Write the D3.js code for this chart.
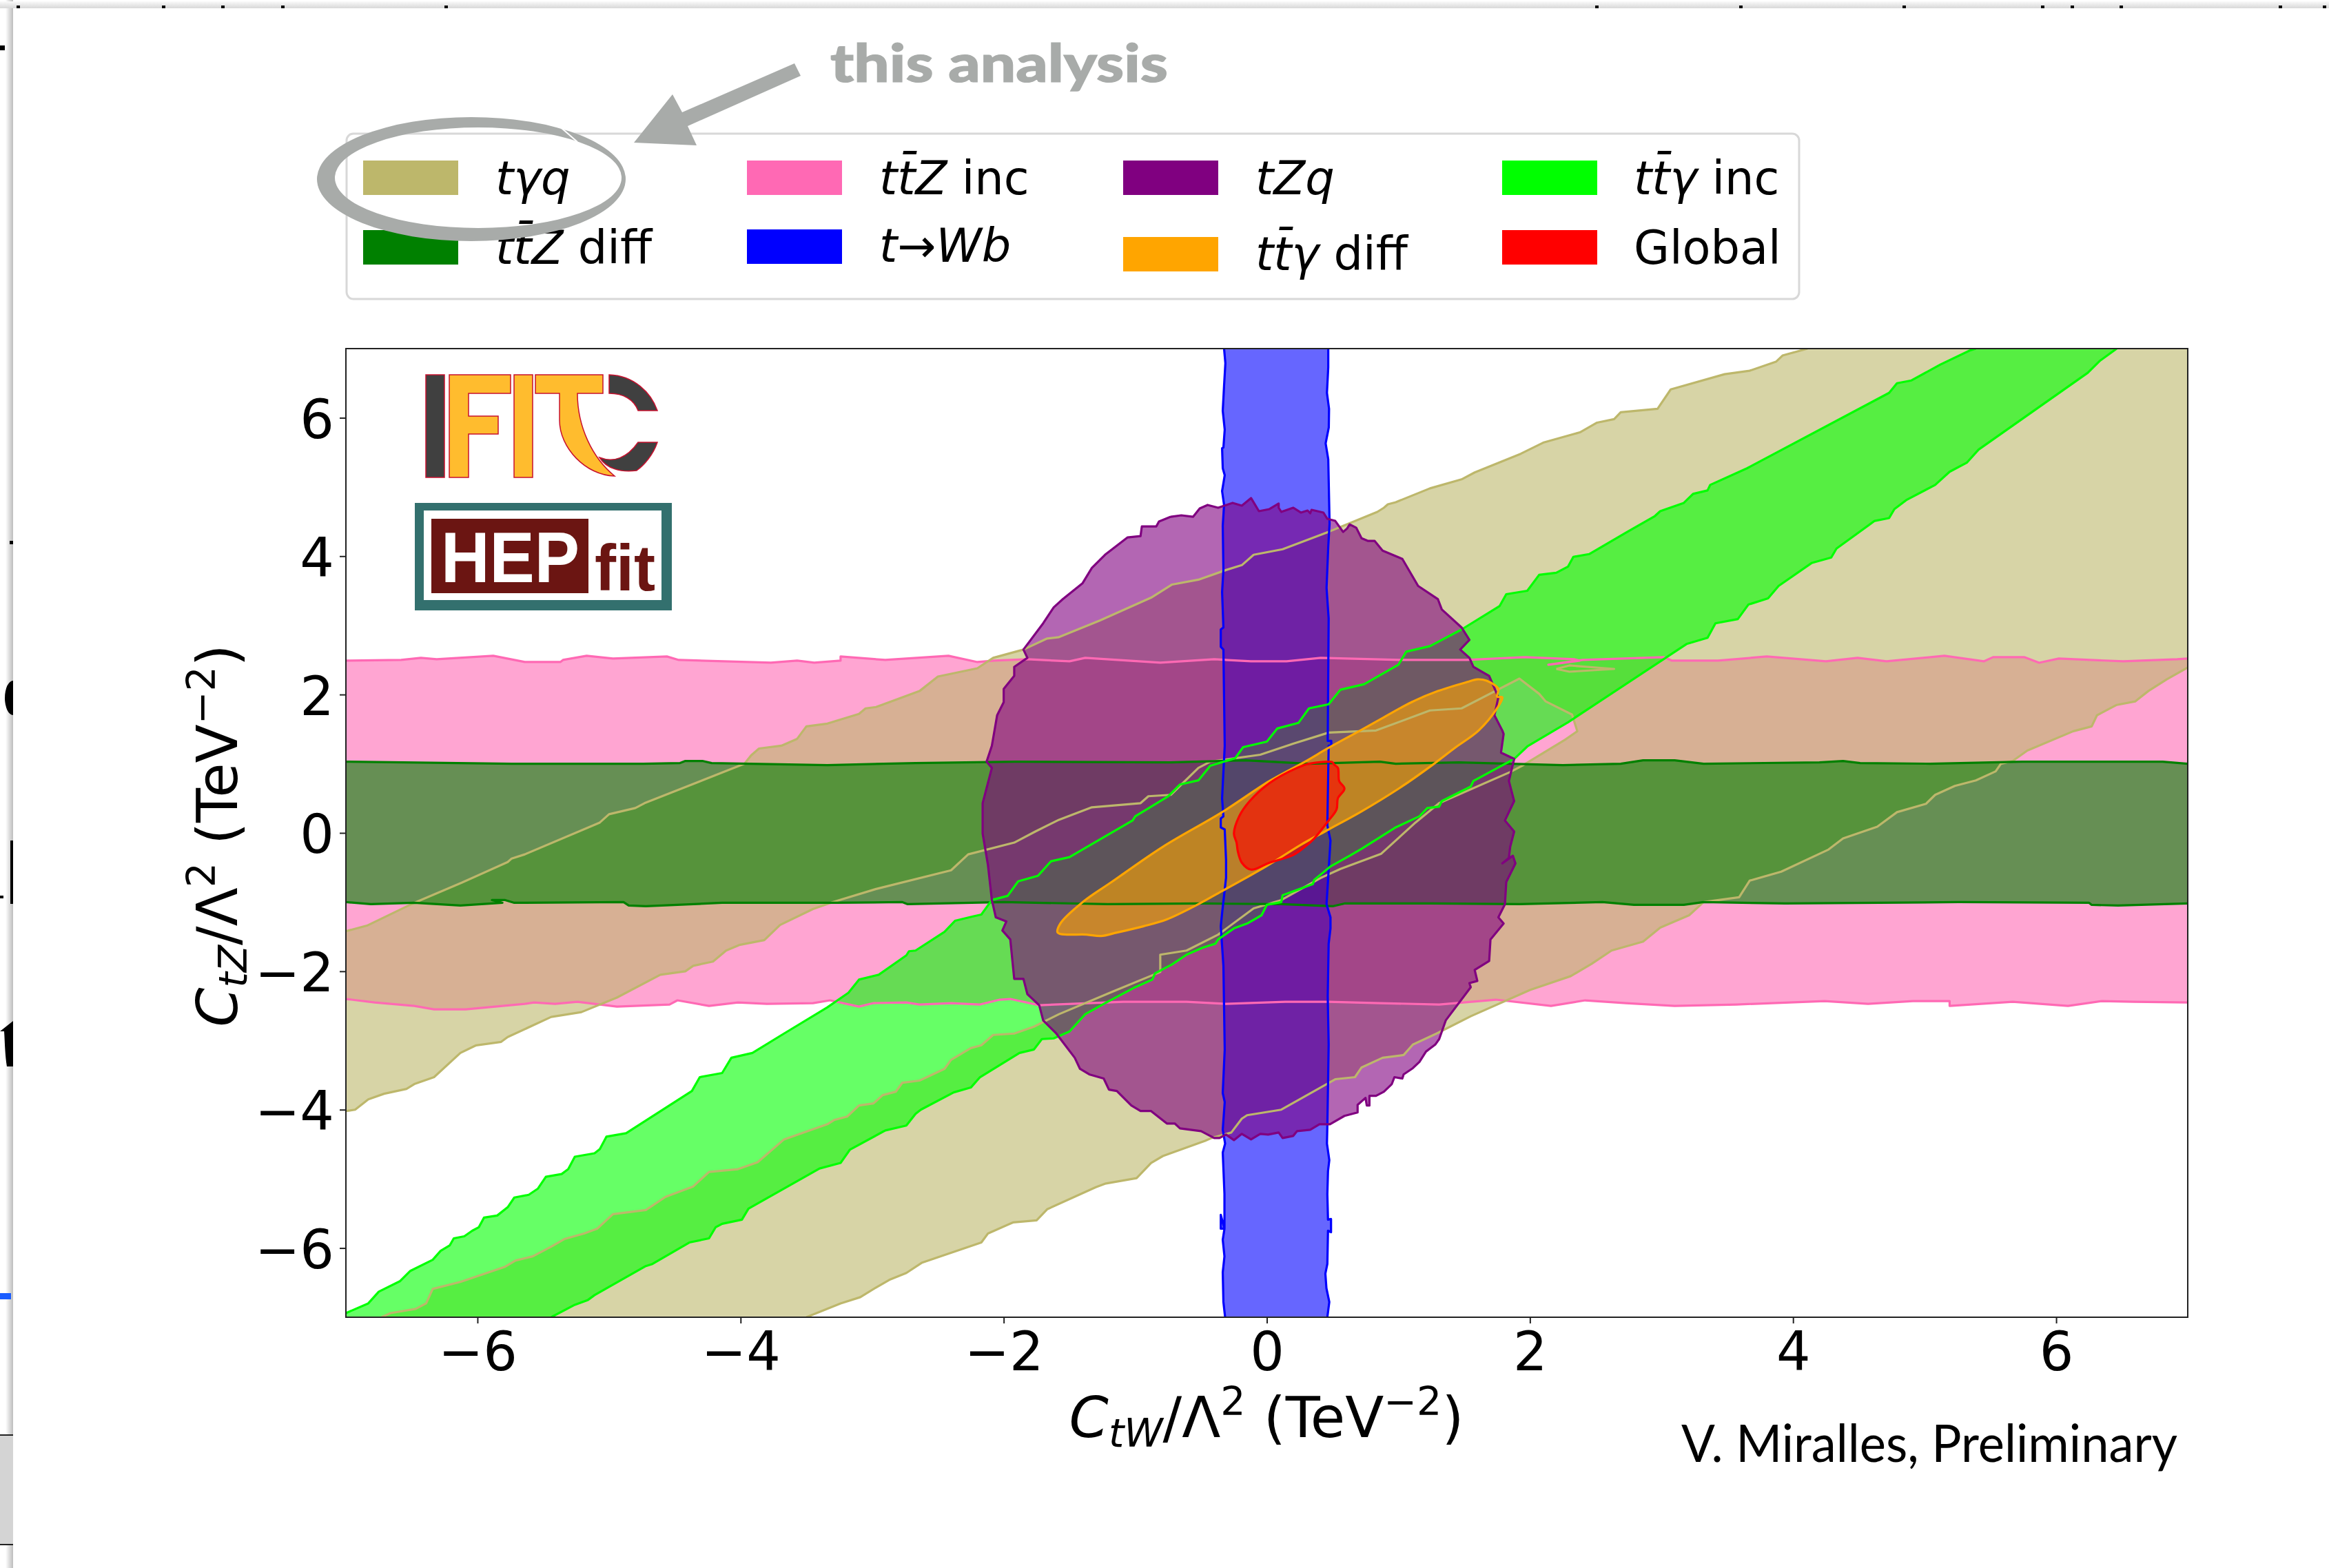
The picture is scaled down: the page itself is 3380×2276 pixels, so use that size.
<!DOCTYPE html>
<meta charset="utf-8" />
<html>
<head>
<script src="https://d3js.org/d3.v7.min.js"></script>
<style>
  html, body { margin: 0; padding: 0; background: white; }
  svg { display: block; }
  text { font-family: "DejaVu Sans"; }
</style>
</head>
<body>
<script type="text/javascript">
// values, all in TeV^-2
var xTicks = [-6, -4, -2, 0, 2, 4, 6];
var yTicks = [-6, -4, -2, 0, 2, 4, 6];

var pinkUpper = [[-7,2.49],[-6.58,2.5],[-6.43,2.53],[-6.31,2.51],[-5.88,2.56],[-5.64,2.47],[-5.37,2.47],[-5.35,2.5],[-5.17,2.56],[-4.97,2.52],[-4.56,2.55],[-4.47,2.5],[-3.77,2.46],[-3.57,2.49],[-3.44,2.46],[-3.24,2.49],[-3.24,2.55],[-2.9,2.5],[-2.42,2.56],[-2.2,2.47],[-2.07,2.49],[-1.82,2.51],[-1.5,2.48],[-1.38,2.53],[-0.81,2.46],[-0.4,2.51],[-0.12,2.48],[0.15,2.48],[0.41,2.53],[1.01,2.5],[1.52,2.5],[1.74,2.52],[1.96,2.54],[2.34,2.51],[2.38,2.49],[2.14,2.43],[2.4,2.5],[3.02,2.54],[3.08,2.49],[3.43,2.49],[3.8,2.55],[4.25,2.48],[4.49,2.53],[4.71,2.48],[5.15,2.56],[5.45,2.48],[5.52,2.54],[5.76,2.54],[5.87,2.46],[6.02,2.52],[6.51,2.48],[6.92,2.51],[7,2.52]];
var pinkLower = [[7,-2.45],[6.59,-2.44],[6.35,-2.43],[6.09,-2.5],[5.67,-2.44],[5.19,-2.5],[5.19,-2.43],[4.91,-2.43],[4.57,-2.47],[4.24,-2.43],[3.57,-2.48],[3.1,-2.5],[2.73,-2.46],[2.42,-2.42],[2.16,-2.5],[1.74,-2.41],[1.31,-2.48],[0.86,-2.46],[0.47,-2.44],[0.14,-2.44],[-0.31,-2.47],[-0.61,-2.44],[-1.09,-2.44],[-1.73,-2.49],[-1.95,-2.4],[-2.03,-2.41],[-2.18,-2.48],[-2.4,-2.46],[-2.64,-2.48],[-2.74,-2.45],[-2.99,-2.46],[-3.1,-2.51],[-3.32,-2.42],[-3.45,-2.46],[-3.8,-2.47],[-4.02,-2.45],[-4.24,-2.5],[-4.48,-2.42],[-4.54,-2.48],[-4.94,-2.51],[-5.24,-2.44],[-5.41,-2.47],[-5.57,-2.45],[-5.64,-2.47],[-6.09,-2.55],[-6.33,-2.55],[-6.48,-2.5],[-6.78,-2.45],[-7,-2.4]];

var khakiUpper = [[-7,-1.42],[-6.84,-1.34],[-6.48,-1.01],[-6.12,-0.72],[-5.77,-0.42],[-5.74,-0.37],[-5.64,-0.31],[-5.07,0.15],[-5,0.27],[-4.8,0.36],[-4.73,0.43],[-3.97,1],[-3.92,1.12],[-3.86,1.22],[-3.69,1.26],[-3.57,1.36],[-3.5,1.54],[-3.34,1.58],[-3.1,1.72],[-3.05,1.8],[-2.97,1.82],[-2.64,2.05],[-2.5,2.26],[-2.2,2.38],[-2.08,2.53],[-1.85,2.65],[-1.67,2.81],[-1.58,2.83],[-1.27,3.07],[-0.88,3.4],[-0.72,3.59],[-0.52,3.66],[-0.31,3.8],[-0.19,3.87],[-0.1,4.02],[0.12,4.1],[0.48,4.36],[0.84,4.64],[0.89,4.7],[0.92,4.75],[0.98,4.78],[1.24,4.98],[1.48,5.11],[1.58,5.21],[1.93,5.48],[2.1,5.64],[2.38,5.79],[2.51,5.93],[2.64,5.98],[2.69,6.08],[2.97,6.13],[3.07,6.41],[3.48,6.63],[3.67,6.68],[3.87,6.81],[3.92,6.9],[4.11,7]];
var khakiLower = [[7,2.39],[6.84,2.22],[6.7,2.05],[6.6,1.9],[6.46,1.85],[6.31,1.7],[6.27,1.54],[6.13,1.47],[5.78,1.19],[5.67,1.04],[5.58,1],[5.54,0.89],[5.39,0.76],[5.23,0.68],[5.08,0.55],[5.01,0.42],[4.79,0.3],[4.64,0.09],[4.38,-0.08],[4.27,-0.24],[3.91,-0.56],[3.67,-0.69],[3.59,-0.93],[3.32,-1],[3.21,-1.19],[2.99,-1.37],[2.86,-1.57],[2.62,-1.7],[2.47,-1.89],[2.31,-2.07],[2,-2.27],[1.55,-2.65],[1.29,-2.9],[1.11,-3.06],[1.04,-3.21],[0.88,-3.25],[0.72,-3.39],[0.67,-3.53],[0.52,-3.56],[0.11,-4],[-0.15,-4.08],[-0.19,-4.13],[-0.27,-4.33],[-0.42,-4.41],[-0.47,-4.45],[-0.79,-4.67],[-0.88,-4.77],[-0.99,-4.99],[-1.23,-5.07],[-1.3,-5.12],[-1.67,-5.44],[-1.75,-5.6],[-1.93,-5.63],[-2.12,-5.79],[-2.17,-5.92],[-2.62,-6.21],[-2.74,-6.36],[-2.87,-6.46],[-2.97,-6.57],[-3.09,-6.71],[-3.24,-6.8],[-3.5,-7]];
var khakiInner = [[-6.73,-7],[-6.66,-6.94],[-6.47,-6.88],[-6.39,-6.8],[-6.34,-6.59],[-6.13,-6.49],[-5.79,-6.27],[-5.71,-6.18],[-5.58,-6.12],[-5.44,-5.98],[-5.34,-5.87],[-5.19,-5.79],[-5.09,-5.72],[-4.97,-5.51],[-4.72,-5.45],[-4.57,-5.26],[-4.36,-5.11],[-4.24,-4.9],[-4.02,-4.86],[-3.87,-4.76],[-3.67,-4.43],[-3.34,-4.21],[-3.29,-4.15],[-3.19,-4.1],[-3.1,-3.94],[-2.99,-3.91],[-2.92,-3.79],[-2.82,-3.74],[-2.77,-3.61],[-2.64,-3.58],[-2.45,-3.41],[-2.4,-3.28],[-2.25,-3.11],[-2.17,-3.07],[-2.08,-2.92],[-1.92,-2.9],[-1.77,-2.8],[-1.58,-2.62],[-1.18,-2.3],[-0.81,-2.01],[-0.81,-1.76],[-0.61,-1.7],[-0.37,-1.47],[-0.1,-1.09],[0.11,-0.97],[0.41,-0.65],[0.56,-0.52],[0.87,-0.3],[1.13,0.15],[1.31,0.43],[1.85,0.88],[1.94,0.97],[2.27,1.35],[2.36,1.47],[2.32,1.71],[2.12,1.9],[2.07,2.01],[1.92,2.23],[1.48,1.8],[1.24,1.77],[0.83,1.48],[0.47,1.45],[0.2,1.29],[-0.05,1.13],[-0.43,1.03],[-0.52,0.94],[-0.73,0.55],[-0.9,0.53],[-0.96,0.43],[-1.33,0.37],[-1.58,0.19],[-1.76,0.02],[-1.92,-0.14],[-2.27,-0.31],[-2.4,-0.54],[-2.97,-0.81],[-3.3,-1],[-3.45,-1.1],[-3.7,-1.33],[-3.82,-1.55],[-4.01,-1.62],[-4.11,-1.7],[-4.21,-1.86],[-4.36,-1.92],[-4.42,-2],[-4.61,-2.05],[-4.94,-2.38],[-5.21,-2.59],[-5.44,-2.66],[-5.77,-2.95],[-5.82,-3.02],[-6.01,-3.07],[-6.13,-3.18],[-6.33,-3.53],[-6.48,-3.63],[-6.54,-3.7],[-6.71,-3.77],[-6.83,-3.85],[-6.93,-4],[-7,-4.02]];
var khakiIsland = [[2.2,2.37],[2.3,2.42],[2.64,2.37],[2.3,2.33]];

var greenUpper = [[-7,1.03],[-5.74,1],[-4.74,1],[-4.46,1.01],[-4.42,1.04],[-4.29,1.04],[-4.22,1.01],[-3.34,0.98],[-2.67,1.01],[-1.91,1.03],[-0.73,1.02],[-0.16,1.05],[0.32,1],[0.86,1.03],[0.98,1],[1.46,1.02],[2.25,0.98],[2.69,1],[2.86,1.05],[3.1,1.05],[3.32,1],[4.2,1.02],[4.38,1.04],[4.51,1.01],[5.04,1],[5.74,1.03],[6.81,1.03],[7,1]];
var greenLower = [[7,-1.02],[6.47,-1.05],[6.27,-1.04],[6.25,-1.01],[5.26,-1],[3.94,-1.02],[3.32,-1],[3.17,-1.04],[2.79,-1.04],[2.55,-1],[1.92,-1.03],[1.25,-1.02],[0.59,-1.02],[0.5,-1.06],[0.11,-1.03],[-0.49,-1.02],[-1.21,-1.03],[-2,-1],[-2.73,-1.03],[-2.77,-1],[-3.27,-1.01],[-4.14,-1.01],[-4.72,-1.06],[-4.85,-1.05],[-4.89,-1],[-5.72,-1.01],[-5.79,-0.97],[-5.89,-0.97],[-5.81,-1.01],[-6.13,-1.05],[-6.48,-1.01],[-6.81,-1.03],[-7,-1]];

var blueLeft = [[-0.325,7],[-0.315,6.79],[-0.325,6.46],[-0.335,6.1],[-0.32,5.83],[-0.33,5.57],[-0.34,5.56],[-0.335,5.27],[-0.32,5.17],[-0.34,4.94],[-0.325,4.74],[-0.335,4.44],[-0.33,3.8],[-0.34,3.48],[-0.33,2.97],[-0.35,2.94],[-0.35,2.69],[-0.33,2.65],[-0.32,1.26],[-0.34,0.5],[-0.33,0.24],[-0.35,0.21],[-0.35,0.08],[-0.32,0.05],[-0.31,-0.39],[-0.31,-0.65],[-0.34,-1.16],[-0.35,-1.35],[-0.33,-1.92],[-0.32,-3.13],[-0.335,-3.76],[-0.32,-3.89],[-0.335,-4.29],[-0.317,-4.49],[-0.335,-4.62],[-0.322,-5.22],[-0.322,-5.72],[-0.35,-5.72],[-0.35,-5.52],[-0.322,-5.72],[-0.335,-5.88],[-0.322,-6.12],[-0.335,-6.35],[-0.33,-6.78],[-0.317,-7]];
var blueRight = [[0.46,-7],[0.475,-6.78],[0.453,-6.58],[0.445,-6.37],[0.46,-6.23],[0.465,-5.75],[0.488,-5.77],[0.488,-5.58],[0.465,-5.59],[0.46,-5.22],[0.465,-4.89],[0.475,-4.73],[0.457,-4.49],[0.46,-4.23],[0.465,-3.66],[0.47,-3.06],[0.463,-2.36],[0.47,-1.6],[0.484,-1.38],[0.484,-1.22],[0.454,-1.03],[0.484,-0.11],[0.46,0.11],[0.47,1.26],[0.49,1.26],[0.49,1.33],[0.463,1.33],[0.47,3.1],[0.454,3.54],[0.467,4.14],[0.477,4.47],[0.467,5.4],[0.447,5.63],[0.471,5.86],[0.473,6.13],[0.457,6.36],[0.467,6.73],[0.467,7]];

var limeUpper = [[-7,-6.94],[-6.83,-6.8],[-6.75,-6.63],[-6.59,-6.48],[-6.51,-6.33],[-6.34,-6.17],[-6.28,-6.04],[-6.21,-5.96],[-6.18,-5.86],[-6.1,-5.83],[-6.04,-5.75],[-5.99,-5.7],[-5.95,-5.56],[-5.85,-5.53],[-5.77,-5.41],[-5.72,-5.27],[-5.61,-5.23],[-5.54,-5.14],[-5.48,-4.97],[-5.36,-4.93],[-5.31,-4.86],[-5.26,-4.68],[-5.11,-4.63],[-5.07,-4.57],[-5.02,-4.39],[-4.87,-4.34],[-4.37,-3.73],[-4.31,-3.53],[-4.14,-3.47],[-4.07,-3.25],[-3.91,-3.18],[-3.67,-2.9],[-3.34,-2.52],[-3.18,-2.31],[-3.1,-2.12],[-2.95,-2.05],[-2.74,-1.77],[-2.72,-1.71],[-2.67,-1.7],[-2.45,-1.43],[-2.37,-1.27],[-2.24,-1.21],[-2.17,-1.18],[-2.09,-0.97],[-1.97,-0.91],[-1.89,-0.7],[-1.74,-0.62],[-1.64,-0.41],[-1.5,-0.35],[-1.02,0.18],[-1,0.24],[-0.75,0.53],[-0.66,0.7],[-0.52,0.76],[-0.43,0.97],[-0.24,1.08],[-0.18,1.24],[0,1.32],[0.08,1.51],[0.24,1.59],[0.32,1.8],[0.47,1.86],[0.56,2.07],[0.74,2.15],[1,2.43],[1.06,2.62],[1.24,2.7],[1.48,2.94],[1.77,3.28],[1.82,3.45],[1.98,3.5],[2.07,3.73],[2.2,3.76],[2.29,3.85],[2.33,3.99],[2.45,4.03],[2.73,4.34],[2.95,4.58],[2.99,4.65],[3.17,4.77],[3.24,4.9],[3.35,4.95],[3.37,5.03],[3.65,5.27],[4.73,6.36],[4.79,6.5],[4.9,6.54],[5.12,6.77],[5.34,6.97],[5.39,7]];
var limeLower = [[6.46,7],[6.33,6.82],[6.24,6.65],[5.41,5.54],[5.32,5.35],[5.19,5.22],[5.08,5.03],[4.86,4.81],[4.77,4.68],[4.73,4.55],[4.62,4.51],[4.33,4.11],[4.29,3.98],[4.14,3.9],[3.89,3.57],[3.81,3.39],[3.66,3.3],[3.58,3.09],[3.41,3.03],[3.35,2.82],[3.19,2.73],[2.29,1.6],[1.98,1.25],[1.88,1.07],[1.57,0.75],[1.55,0.67],[1.33,0.46],[1.31,0.38],[1.22,0.36],[1.16,0.24],[0.98,0.08],[0.72,-0.23],[0.63,-0.33],[0.48,-0.49],[0.36,-0.68],[0.35,-0.74],[0.12,-0.9],[0.11,-1],[0,-1.04],[-0.04,-1.19],[-0.15,-1.31],[-0.25,-1.38],[-0.37,-1.54],[-0.39,-1.6],[-0.49,-1.66],[-0.61,-1.76],[-0.72,-1.9],[-0.85,-2.03],[-0.87,-2.12],[-1,-2.23],[-1.23,-2.46],[-1.38,-2.62],[-1.5,-2.87],[-1.62,-2.97],[-1.71,-2.98],[-1.77,-3.13],[-1.88,-3.18],[-2.18,-3.53],[-2.25,-3.68],[-2.38,-3.75],[-2.63,-4],[-2.67,-4.06],[-2.74,-4.23],[-2.9,-4.3],[-3.17,-4.58],[-3.24,-4.77],[-3.4,-4.85],[-3.94,-5.43],[-3.99,-5.59],[-4.14,-5.65],[-4.19,-5.7],[-4.24,-5.86],[-4.39,-5.92],[-4.67,-6.23],[-4.72,-6.26],[-5.11,-6.68],[-5.16,-6.75],[-5.26,-6.82],[-5.44,-7]];

var purpleContour = [[-0.73,4.57],[-0.65,4.59],[-0.56,4.57],[-0.51,4.69],[-0.45,4.74],[-0.37,4.7],[-0.26,4.77],[-0.19,4.73],[-0.12,4.84],[-0.06,4.65],[0.02,4.68],[0.09,4.76],[0.09,4.7],[0.11,4.64],[0.2,4.7],[0.26,4.63],[0.31,4.66],[0.33,4.62],[0.34,4.67],[0.43,4.63],[0.46,4.54],[0.52,4.51],[0.58,4.35],[0.61,4.4],[0.63,4.46],[0.68,4.41],[0.72,4.26],[0.77,4.22],[0.82,4.22],[0.88,4.08],[1.03,3.96],[1.15,3.57],[1.3,3.38],[1.33,3.23],[1.48,2.97],[1.54,2.79],[1.47,2.65],[1.54,2.53],[1.57,2.4],[1.69,2.27],[1.76,1.96],[1.73,1.7],[1.79,1.48],[1.8,1.43],[1.78,1.16],[1.88,1.07],[1.84,0.75],[1.88,0.46],[1.81,0.18],[1.88,0.02],[1.85,-0.2],[1.84,-0.36],[1.79,-0.44],[1.87,-0.33],[1.89,-0.44],[1.82,-0.71],[1.81,-1.03],[1.76,-1.22],[1.8,-1.31],[1.7,-1.54],[1.69,-1.85],[1.58,-1.98],[1.6,-2.14],[1.54,-2.17],[1.55,-2.23],[1.36,-2.71],[1.31,-2.98],[1.28,-3.06],[1.21,-3.16],[1.16,-3.31],[1.11,-3.4],[1.04,-3.49],[1.03,-3.55],[0.97,-3.53],[0.95,-3.63],[0.89,-3.74],[0.83,-3.8],[0.78,-3.8],[0.78,-3.94],[0.76,-3.94],[0.75,-3.83],[0.69,-3.93],[0.69,-4.04],[0.59,-4.09],[0.48,-4.21],[0.4,-4.21],[0.33,-4.29],[0.23,-4.31],[0.2,-4.38],[0.12,-4.41],[0.09,-4.33],[0.01,-4.36],[-0.05,-4.35],[-0.12,-4.43],[-0.19,-4.35],[-0.25,-4.44],[-0.31,-4.36],[-0.36,-4.41],[-0.4,-4.41],[-0.5,-4.31],[-0.66,-4.27],[-0.7,-4.2],[-0.76,-4.2],[-0.88,-4.02],[-0.96,-4.02],[-1.03,-3.94],[-1.14,-3.73],[-1.2,-3.71],[-1.24,-3.55],[-1.35,-3.49],[-1.42,-3.41],[-1.46,-3.25],[-1.6,-2.9],[-1.7,-2.71],[-1.73,-2.49],[-1.82,-2.33],[-1.85,-2.11],[-1.92,-2.11],[-1.95,-1.54],[-2.01,-1.41],[-1.98,-1.28],[-2.06,-1.22],[-2.09,-0.97],[-2.12,-0.46],[-2.16,-0.01],[-2.16,0.43],[-2.09,0.94],[-2.13,1.03],[-2.09,1.26],[-2.05,1.7],[-2,1.89],[-2,2.08],[-1.92,2.27],[-1.92,2.4],[-1.82,2.53],[-1.85,2.65],[-1.7,3.03],[-1.62,3.26],[-1.55,3.38],[-1.4,3.61],[-1.33,3.83],[-1.23,4.02],[-1.06,4.27],[-0.96,4.29],[-0.95,4.43],[-0.84,4.43],[-0.82,4.5]];

var orangeContour = [[-1.59,-1.44],[-1.57,-1.31],[-1.4,-1],[-1.18,-0.71],[-0.79,-0.2],[-0.34,0.3],[0.02,0.75],[0.29,1.03],[0.47,1.23],[0.71,1.48],[0.86,1.64],[1.1,1.89],[1.3,2.05],[1.52,2.18],[1.6,2.22],[1.67,2.2],[1.76,2.08],[1.75,1.97],[1.79,1.96],[1.75,1.8],[1.61,1.48],[1.43,1.23],[1.25,0.97],[1.01,0.65],[0.71,0.3],[0.47,0.05],[0.26,-0.17],[-0.01,-0.49],[-0.34,-0.84],[-0.52,-1.03],[-0.76,-1.25],[-0.94,-1.35],[-1.14,-1.44],[-1.26,-1.49],[-1.37,-1.47]];

var redContour = [[-0.25,-0.01],[-0.21,0.24],[-0.13,0.46],[0.02,0.72],[0.23,0.94],[0.32,1],[0.5,1.02],[0.51,0.99],[0.54,0.94],[0.55,0.75],[0.59,0.64],[0.54,0.5],[0.53,0.34],[0.47,0.18],[0.36,-0.08],[0.29,-0.2],[0.2,-0.32],[0.02,-0.43],[-0.12,-0.53],[-0.19,-0.43],[-0.22,-0.27],[-0.23,-0.14]];

var legendColors = { tyq: "#BDB76B", ttzInc: "#FF69B4", tzq: "#800080", ttyInc: "#00FF00", ttzDiff: "#008000", twb: "#0000FF", ttyDiff: "#FFA500", global: "#FF0000" };

var margin = {left: 502, right: 205, top: 506, bottom: 364};
var W = 3380, H = 2276;
var width = W - margin.left - margin.right;
var height = H - margin.top - margin.bottom;

var svg = d3.select("body").append("svg").attr("width", W).attr("height", H);
var defs = svg.append("defs");

// the slide behind the screenshot, only a sliver of it shows
var shadowL = defs.append("linearGradient").attr("id", "shadowL");
shadowL.append("stop").attr("offset", "0").attr("stop-color", "#fff");
shadowL.append("stop").attr("offset", "1").attr("stop-color", "#bdbdbd");
var shadowT = defs.append("linearGradient").attr("id", "shadowT").attr("x2", 0).attr("y2", 1);
shadowT.append("stop").attr("offset", "0").attr("stop-color", "#fafafa");
shadowT.append("stop").attr("offset", "1").attr("stop-color", "#d8d8d8");
svg.append("rect").attr("x", 8).attr("y", 0).attr("width", 11).attr("height", H).attr("fill", "url(#shadowL)");
svg.append("rect").attr("x", 0).attr("y", 2).attr("width", W).attr("height", 10).attr("fill", "url(#shadowT)");
[[0,66,7,7],[14,785,5,5],[15,1220,4,92],[0,1300,5,4]].forEach(function(r) {
  svg.append("rect").attr("x", r[0]).attr("y", r[1]).attr("width", r[2]).attr("height", r[3]).attr("fill", "#000");
});
svg.append("path").attr("fill", "#000").attr("d", "M19,988 A12,25 0 0 0 19,1038 Z");
svg.append("path").attr("fill", "#000").attr("d", "M0,1497 L19,1482 V1548 H10 C7,1530 7,1510 6,1497 Z");
svg.append("rect").attr("x", 0).attr("y", 1877).attr("width", 16).attr("height", 9).attr("fill", "#1a5cff");
svg.append("rect").attr("x", 0).attr("y", 2083).attr("width", 19).attr("height", 159).attr("fill", "#d4d4d4");
svg.append("rect").attr("x", 0).attr("y", 2082).attr("width", 19).attr("height", 2).attr("fill", "#222");
svg.append("rect").attr("x", 0).attr("y", 2241).attr("width", 19).attr("height", 2).attr("fill", "#222");
[26,237,323,410,647,2317,2526,2763,2964,3007,3078,3309,3373].forEach(function(px) {
  svg.append("rect").attr("x", px - 2).attr("y", 8).attr("width", 5).attr("height", 4).attr("fill", "#000");
});

var plot = svg.append("g").attr("transform", "translate(" + margin.left + "," + margin.top + ")");

var x = d3.scaleLinear().domain([-7, 7]).range([0, width]);
var y = d3.scaleLinear().domain([-7, 7]).range([height, 0]);

defs.append("clipPath").attr("id", "plotClip").append("rect").attr("width", width).attr("height", height);

var line = d3.line().x(function(d) { return x(d[0]); }).y(function(d) { return y(d[1]); });
var smoothLine = d3.line().x(function(d) { return x(d[0]); }).y(function(d) { return y(d[1]); }).curve(d3.curveCatmullRomClosed);

// fills first, outlines afterwards: the outlines stay bright over everything
var layers = [
  {color: legendColors.ttzInc, fills: [pinkUpper.concat(pinkLower)], lines: [pinkUpper, pinkLower]},
  {color: legendColors.tyq, fills: [khakiUpper.concat([[7, 7]], khakiLower, khakiInner), khakiIsland], lines: [khakiUpper, khakiLower, khakiInner, khakiIsland.concat([khakiIsland[0]])]},
  {color: legendColors.ttzDiff, fills: [greenUpper.concat(greenLower)], lines: [greenUpper, greenLower]},
  {color: legendColors.twb, fills: [blueLeft.concat(blueRight)], lines: [blueLeft, blueRight]},
  {color: legendColors.ttyInc, fills: [limeUpper.concat(limeLower, [[-7, -7]])], lines: [limeUpper, limeLower]},
  {color: legendColors.tzq, fills: [purpleContour], lines: [purpleContour.concat([purpleContour[0]])]},
  {color: legendColors.ttyDiff, fills: [orangeContour], lines: [orangeContour], smooth: true},
  {color: legendColors.global, fills: [redContour], lines: [redContour], smooth: true}
];

var clipped = plot.append("g").attr("clip-path", "url(#plotClip)");
layers.forEach(function(l) {
  clipped.selectAll(null).data(l.fills).enter().append("path")
    .attr("d", function(d) { return l.smooth ? smoothLine(d) : line(d) + "Z"; })
    .attr("fill", l.color)
    .attr("fill-opacity", 0.6);
});
layers.forEach(function(l) {
  clipped.selectAll(null).data(l.lines).enter().append("path")
    .attr("d", l.smooth ? smoothLine : line)
    .attr("fill", "none")
    .attr("stroke", l.color)
    .attr("stroke-width", 3.2)
    .attr("stroke-linejoin", "round");
});

// axes
var tickFmt = function(d) { return d < 0 ? "\u2212" + (-d) : "" + d; };
var gx = plot.append("g").attr("transform", "translate(0," + height + ")")
  .call(d3.axisBottom(x).tickValues(xTicks).tickFormat(tickFmt).tickSize(9).tickPadding(13));
var gy = plot.append("g")
  .call(d3.axisLeft(y).tickValues(yTicks).tickFormat(tickFmt).tickSize(9).tickPadding(8));
[gx, gy].forEach(function(g) {
  g.selectAll("text").style("font-family", "DejaVu Sans").style("font-size", "78px").attr("fill", "#000");
  g.selectAll("line").attr("stroke", "#222").attr("stroke-width", 2);
  g.select(".domain").remove();
});
gy.selectAll("text").attr("dy", "0.37em");
plot.append("rect").attr("width", width).attr("height", height)
  .attr("fill", "none").attr("stroke", "#222").attr("stroke-width", 2);

// axis labels, mathtext style
function axisLabel(sub) {
  return '<tspan font-style="italic">C</tspan>' +
    '<tspan font-style="italic" font-size="57" dy="14">' + sub + '</tspan>' +
    '<tspan dy="-14">/\u039B</tspan>' +
    '<tspan font-size="57" dy="-32">2</tspan>' +
    '<tspan dy="32"> (TeV</tspan>' +
    '<tspan font-size="57" dy="-32">\u22122</tspan>' +
    '<tspan dy="32">)</tspan>';
}
svg.append("text").attr("x", 1838).attr("y", 2086)
  .attr("text-anchor", "middle").attr("font-size", 82)
  .html(axisLabel("tW"));
svg.append("text").attr("transform", "translate(344,1213) rotate(-90)")
  .attr("text-anchor", "middle").attr("font-size", 82)
  .html(axisLabel("tZ"));

svg.append("text").attr("x", 2440).attr("y", 2122)
  .style("font-family", "Lato").attr("font-size", 76)
  .attr("textLength", 720).attr("lengthAdjust", "spacingAndGlyphs")
  .text("V. Miralles, Preliminary");

// legend
svg.append("rect").attr("x", 503).attr("y", 194).attr("width", 2108).attr("height", 240).attr("rx", 10)
  .attr("fill", "#fff").attr("stroke", "#d8d8d8").attr("stroke-width", 3);

var ttbar = '<tspan font-style="italic">tt\u0304</tspan>';
var legendItems = [
  {color: legendColors.tyq, px: 527, py: 233, tx: 719, ty: 282, html: '<tspan font-style="italic">t\u03B3q</tspan>'},
  {color: legendColors.ttzInc, px: 1084, py: 233, tx: 1276, ty: 282, html: ttbar + '<tspan font-style="italic">Z</tspan> inc'},
  {color: legendColors.tzq, px: 1630, py: 233, tx: 1822, ty: 282, html: '<tspan font-style="italic">tZq</tspan>'},
  {color: legendColors.ttyInc, px: 2180, py: 233, tx: 2371, ty: 282, html: ttbar + '<tspan font-style="italic">\u03B3</tspan> inc'},
  {color: legendColors.ttzDiff, px: 527, py: 334, tx: 719, ty: 383, html: ttbar + '<tspan font-style="italic">Z</tspan> diff'},
  {color: legendColors.twb, px: 1084, py: 333, tx: 1276, ty: 380, html: '<tspan font-style="italic">t</tspan>\u2192<tspan font-style="italic">Wb</tspan>'},
  {color: legendColors.ttyDiff, px: 1630, py: 344, tx: 1822, ty: 392, html: ttbar + '<tspan font-style="italic">\u03B3</tspan> diff'},
  {color: legendColors.global, px: 2180, py: 334, tx: 2371, ty: 383, html: 'Global'}
];
var legend = svg.append("g");
legend.selectAll("rect").data(legendItems).enter().append("rect")
  .attr("x", function(d) { return d.px; }).attr("y", function(d) { return d.py; })
  .attr("width", 138).attr("height", 50).attr("fill", function(d) { return d.color; });
legend.selectAll("text").data(legendItems).enter().append("text")
  .attr("x", function(d) { return d.tx; }).attr("y", function(d) { return d.ty; })
  .attr("font-size", 67)
  .html(function(d) { return d.html; });

// "this analysis" note, arrow and the hand drawn ring
var noteGrey = "#A8ABA9";
svg.append("text").attr("x", 1205).attr("y", 119)
  .style("font-family", "Lato").style("font-weight", 900).attr("font-size", 76)
  .attr("textLength", 490).attr("lengthAdjust", "spacingAndGlyphs")
  .attr("fill", noteGrey).attr("stroke", noteGrey).attr("stroke-width", 1.2).text("this analysis");
svg.append("polygon").attr("fill", noteGrey)
  .attr("points", "1153,92 1162,110 998,183 1011,211 920,207 976,137 990,163");
svg.append("path").attr("fill", noteGrey).attr("fill-rule", "evenodd")
  .attr("d", "M460,260 A224,90 0 1 1 908,260 A224,90 0 1 1 460,260Z M486,258 A208,73 0 1 0 902,258 A208,73 0 1 0 486,258Z");
svg.append("path").attr("fill", "none").attr("stroke", "#fff").attr("stroke-width", 2)
  .attr("d", "M815,186 L838,206");

// logos
var ifit = svg.append("g").attr("stroke", "#c8102e").attr("stroke-width", 1.5);
ifit.append("rect").attr("x", 618).attr("y", 544).attr("width", 27).attr("height", 149).attr("fill", "#404040");
ifit.append("path").attr("fill", "#FFBC2E").attr("d", "M652,544 H741 V571 H680 V604 H723 V630 H680 V693 H652 Z");
ifit.append("rect").attr("x", 746).attr("y", 544).attr("width", 27).attr("height", 149).attr("fill", "#FFBC2E");
ifit.append("path").attr("fill", "#FFBC2E").attr("d", "M777,544 H875 V571 H838 C838,620 860,665 892,691 C850,690 812,650 812,610 V571 H777 Z");
ifit.append("path").attr("fill", "#404040").attr("d", "M884,544 C920,545 945,570 954,596 H926 C920,580 905,571 884,571 Z");
ifit.append("path").attr("fill", "#404040").attr("d", "M870,664 C890,672 910,665 926,642 H954 C948,660 935,675 924,683 C900,686 880,680 870,664 Z");

svg.append("rect").attr("x", 602).attr("y", 730).attr("width", 373).attr("height", 156).attr("fill", "#33706E");
svg.append("rect").attr("x", 615).attr("y", 741).attr("width", 345).attr("height", 130).attr("fill", "#fff");
svg.append("rect").attr("x", 626).attr("y", 753).attr("width", 228).attr("height", 108).attr("fill", "#6B1512");
svg.append("text").attr("x", 640).attr("y", 845)
  .style("font-family", "Liberation Sans").style("font-weight", "bold").attr("font-size", 103)
  .attr("textLength", 201).attr("lengthAdjust", "spacingAndGlyphs").attr("fill", "#fff").text("HEP");
svg.append("text").attr("x", 863).attr("y", 857)
  .style("font-family", "Liberation Sans").style("font-weight", "bold").attr("font-size", 94)
  .attr("textLength", 88).attr("lengthAdjust", "spacingAndGlyphs").attr("fill", "#6B1512").text("fit");
</script>
</body>
</html>
